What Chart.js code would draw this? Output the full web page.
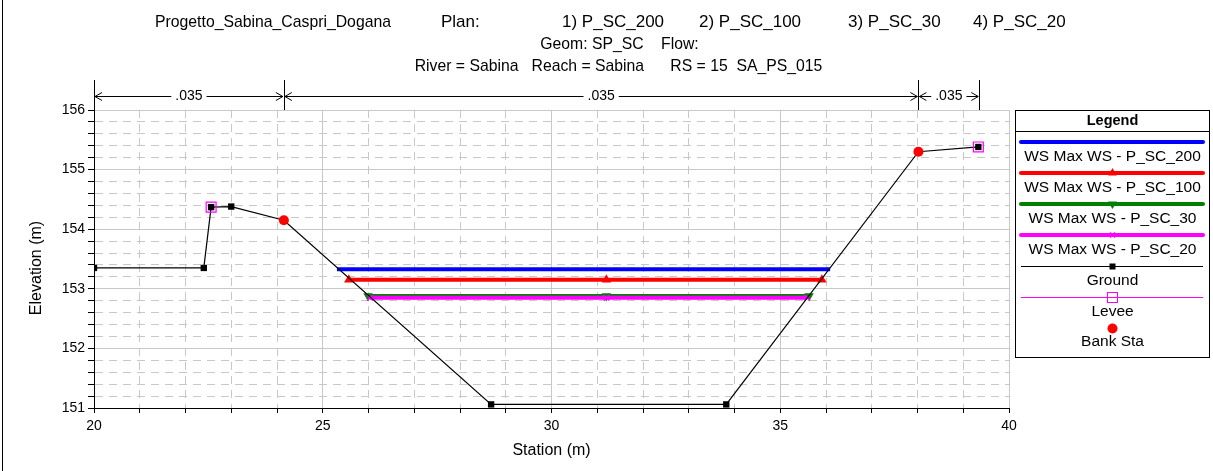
<!DOCTYPE html>
<html>
<head>
<meta charset="utf-8">
<script src="https://cdn.jsdelivr.net/npm/chart.js@4.4.1/dist/chart.umd.min.js"></script>
<style>
  html, body { margin: 0; padding: 0; background: #fff; }
  #wrap { width: 1213px; height: 471px; }
</style>
</head>
<body>
<div id="wrap"><canvas id="xsChart" width="1213" height="471"></canvas></div>
<script>
// ground profile (station m, elevation m)
const groundSta  = [20, 22.4, 22.56, 23.0, 24.15, 28.68, 33.82, 38.02, 39.33];
const groundElev = [153.35, 153.35, 154.37, 154.38, 154.15, 151.06, 151.06, 155.30, 155.38];
const leveeSta  = [22.56, 39.33];
const leveeElev = [154.37, 155.38];
const bankSta  = [24.15, 38.02];
const bankElev = [154.15, 155.30];

// water surfaces
const wsNames = ['WS Max WS - P_SC_200', 'WS Max WS - P_SC_100', 'WS Max WS - P_SC_30', 'WS Max WS - P_SC_20'];
const wsElev  = [153.33, 153.15, 152.88, 152.85];
const wsLeft  = [25.31, 25.57, 25.99, 26.03];
const wsMid   = [31.2, 31.2, 31.2, 31.2];
const wsRight = [36.09, 35.91, 35.63, 35.59];

// manning's n
const nStations = [20, 24.15, 38.02, 39.35];
const nValues = ['.035', '.035', '.035'];

// tick labels
const xTickLabels = [20, 25, 30, 35, 40];
const yTickLabels = [151, 152, 153, 154, 155, 156];

const titleParts = ['Progetto_Sabina_Caspri_Dogana', 'Plan:', '1) P_SC_200', '2) P_SC_100', '3) P_SC_30', '4) P_SC_20'];
const subTitles = ['Geom: SP_SC    Flow:', 'River = Sabina   Reach = Sabina      RS = 15  SA_PS_015'];

const FONT = 'Arial, "Liberation Sans", sans-serif';
const wsColors = ['#0000ff', '#ff0000', '#008000', '#ff00ff'];
const wsMarkers = [false, 'triangle', 'triangle', 'crossRot'];
const wsRot = [0, 0, 180, 0];

function pts(xs, ys) {
    return xs.map((x, i) => ({ x: x, y: ys[i] }));
}

function wsDataset(i) {
    let data = [{ x: wsLeft[i], y: wsElev[i] }, { x: wsMid[i], y: wsElev[i] }, { x: wsRight[i], y: wsElev[i] }];
    return {
        label: wsNames[i],
        data: data,
        showLine: true,
        borderColor: wsColors[i],
        backgroundColor: wsColors[i],
        borderWidth: 4,
        pointStyle: wsMarkers[i],
        pointRotation: wsRot[i],
        pointRadius: wsMarkers[i] ? 4 : 0,
        pointBorderWidth: 1.5
    };
}

function isInt(v) {
    return Math.abs(v - Math.round(v)) < 1e-6;
}

// titles, n-value bars, legend, axis titles
const decorPlugin = {
    id: 'decor',
    afterDraw(chart) {
        const ctx = chart.ctx;
        const xs = chart.scales.x;
        const area = chart.chartArea;
        ctx.save();

        // left frame
        ctx.strokeStyle = '#000';
        ctx.lineWidth = 1;
        ctx.beginPath();
        ctx.moveTo(2.5, 0);
        ctx.lineTo(2.5, 471);
        ctx.stroke();

        // main title
        ctx.fillStyle = '#000';
        ctx.textBaseline = 'middle';
        ctx.textAlign = 'left';
        ctx.font = '17px ' + FONT;
        const starts = [155, 441, 562, 699, 848, 973];
        titleParts.forEach((t, i) => {
            if (i === 0) ctx.fillText(t, starts[i], 22, 236);
            else ctx.fillText(t, starts[i], 22);
        });
        ctx.textAlign = 'center';
        ctx.font = '15.75px ' + FONT;
        ctx.fillText(subTitles[0], 619.5, 45);
        ctx.fillText(subTitles[1], 618.5, 67);

        // axis titles
        ctx.font = '16px ' + FONT;
        ctx.fillText('Station (m)', (area.left + area.right) / 2, 451);
        ctx.save();
        ctx.translate(37, 268);
        ctx.rotate(-Math.PI / 2);
        ctx.fillText('Elevation (m)', 0, 0);
        ctx.restore();

        // manning's n bars
        const yArrow = 96.5;
        ctx.lineWidth = 1;
        nStations.forEach(s => {
            const px = Math.round(xs.getPixelForValue(s)) + 0.5;
            ctx.beginPath();
            ctx.moveTo(px, 80);
            ctx.lineTo(px, area.top);
            ctx.stroke();
        });
        ctx.font = '14px ' + FONT;
        for (let i = 0; i < nValues.length; i++) {
            const x1 = xs.getPixelForValue(nStations[i]) + 1;
            const x2 = xs.getPixelForValue(nStations[i + 1]) - 1;
            const mid = (x1 + x2) / 2;
            const w = ctx.measureText(nValues[i]).width + 8;
            ctx.beginPath();
            ctx.moveTo(x1, yArrow);
            ctx.lineTo(mid - w / 2, yArrow);
            ctx.moveTo(mid + w / 2, yArrow);
            ctx.lineTo(x2, yArrow);
            // arrowheads
            ctx.moveTo(x1 + 7, yArrow - 4);
            ctx.lineTo(x1, yArrow);
            ctx.lineTo(x1 + 7, yArrow + 4);
            ctx.moveTo(x2 - 7, yArrow - 4);
            ctx.lineTo(x2, yArrow);
            ctx.lineTo(x2 - 7, yArrow + 4);
            ctx.stroke();
            ctx.fillText(nValues[i], mid, yArrow);
        }

        // legend box
        const lx = 1015.5, ly = 110.5, lw = 194, lh = 247;
        ctx.strokeStyle = '#000';
        ctx.strokeRect(lx, ly, lw, lh);
        ctx.beginPath();
        ctx.moveTo(lx, 131.5);
        ctx.lineTo(lx + lw, 131.5);
        ctx.stroke();
        ctx.font = 'bold 14.5px ' + FONT;
        ctx.fillText('Legend', lx + lw / 2, 121);

        const cx = lx + lw / 2;
        const x1 = 1021, x2 = 1203;
        ctx.font = '15.5px ' + FONT;
        for (let i = 0; i < wsNames.length; i++) {
            const yl = 142 + i * 31;
            ctx.strokeStyle = wsColors[i];
            ctx.lineWidth = 4;
            ctx.lineCap = 'round';
            ctx.beginPath();
            ctx.moveTo(x1, yl);
            ctx.lineTo(x2, yl);
            ctx.stroke();
            ctx.lineCap = 'butt';
            if (wsMarkers[i]) {
                ctx.fillStyle = wsColors[i];
                ctx.lineWidth = 1.5;
                Chart.helpers.drawPoint(ctx, { pointStyle: wsMarkers[i], radius: 3.5, rotation: wsRot[i], borderWidth: 1.5 }, cx, yl);
            }
            ctx.fillStyle = '#000';
            ctx.fillText(wsNames[i], cx, yl + 15);
        }
        // ground
        ctx.strokeStyle = '#000';
        ctx.lineWidth = 1;
        ctx.beginPath();
        ctx.moveTo(x1, 266.5);
        ctx.lineTo(x2, 266.5);
        ctx.stroke();
        ctx.fillStyle = '#000';
        ctx.fillRect(cx - 3, 263.5, 6, 6);
        ctx.fillText('Ground', cx, 281);
        // levee
        ctx.strokeStyle = '#ff00ff';
        ctx.beginPath();
        ctx.moveTo(x1, 297.5);
        ctx.lineTo(x2, 297.5);
        ctx.stroke();
        ctx.strokeRect(cx - 5, 292.5, 10, 10);
        ctx.fillStyle = '#000';
        ctx.fillText('Levee', cx, 312);
        // bank sta
        ctx.fillStyle = '#ff0000';
        ctx.beginPath();
        ctx.arc(cx, 328.5, 5, 0, Math.PI * 2);
        ctx.fill();
        ctx.fillStyle = '#000';
        ctx.fillText('Bank Sta', cx, 342);

        ctx.restore();
    }
};

const ctx = document.getElementById('xsChart').getContext('2d');
const xsChart = new Chart(ctx, {
    type: 'scatter',
    data: {
        datasets: [
            {
                label: 'Bank Sta',
                data: pts(bankSta, bankElev),
                pointStyle: 'circle',
                pointRadius: 5,
                backgroundColor: '#ff0000',
                borderColor: '#ff0000',
                borderWidth: 0
            },
            {
                label: 'Levee',
                data: pts(leveeSta, leveeElev),
                pointStyle: 'rect',
                pointRadius: 7,
                backgroundColor: 'rgba(0,0,0,0)',
                borderColor: '#ff00ff',
                pointBorderWidth: 1.2
            },
            {
                label: 'Ground',
                data: pts(groundSta, groundElev),
                showLine: true,
                borderColor: '#000',
                backgroundColor: '#000',
                borderWidth: 1.2,
                pointStyle: 'rect',
                pointRadius: 4.5,
                pointBorderWidth: 0
            },
            wsDataset(3),
            wsDataset(2),
            wsDataset(1),
            wsDataset(0)
        ]
    },
    options: {
        responsive: false,
        animation: false,
        layout: { padding: { left: 0, right: 204, top: 110, bottom: 0 } },
        plugins: {
            legend: { display: false },
            tooltip: { enabled: false }
        },
        scales: {
            x: {
                type: 'linear',
                min: 20,
                max: 40,
                afterFit: s => { s.height = 63; },
                ticks: {
                    stepSize: 1,
                    autoSkip: false,
                    maxRotation: 0,
                    color: '#000',
                    padding: 5,
                    font: { family: FONT, size: 14 },
                    callback: v => (xTickLabels.includes(v) ? String(v) : '')
                },
                grid: {
                    color: '#c8c8c8',
                    lineWidth: 1,
                    tickLength: 5,
                    tickColor: '#000'
                },
                border: {
                    display: true,
                    color: '#000',
                    width: 1,
                    dash: c => (c.tick && c.tick.value % 5 !== 0 ? [8, 6] : [])
                }
            },
            y: {
                type: 'linear',
                min: 151,
                max: 156,
                afterFit: s => { s.width = 94; },
                ticks: {
                    stepSize: 0.2,
                    autoSkip: false,
                    color: '#000',
                    padding: 3,
                    font: { family: FONT, size: 14 },
                    callback: v => {
                        if (!isInt(v)) return '';
                        const r = Math.round(v);
                        return yTickLabels.includes(r) ? String(r) : '';
                    }
                },
                grid: {
                    color: '#c8c8c8',
                    lineWidth: 1,
                    tickLength: 6,
                    tickColor: '#000'
                },
                border: {
                    display: true,
                    color: '#000',
                    width: 1,
                    dash: c => (c.tick && !isInt(c.tick.value) ? [8, 6] : [])
                }
            }
        }
    },
    plugins: [decorPlugin]
});
</script>
</body>
</html>
